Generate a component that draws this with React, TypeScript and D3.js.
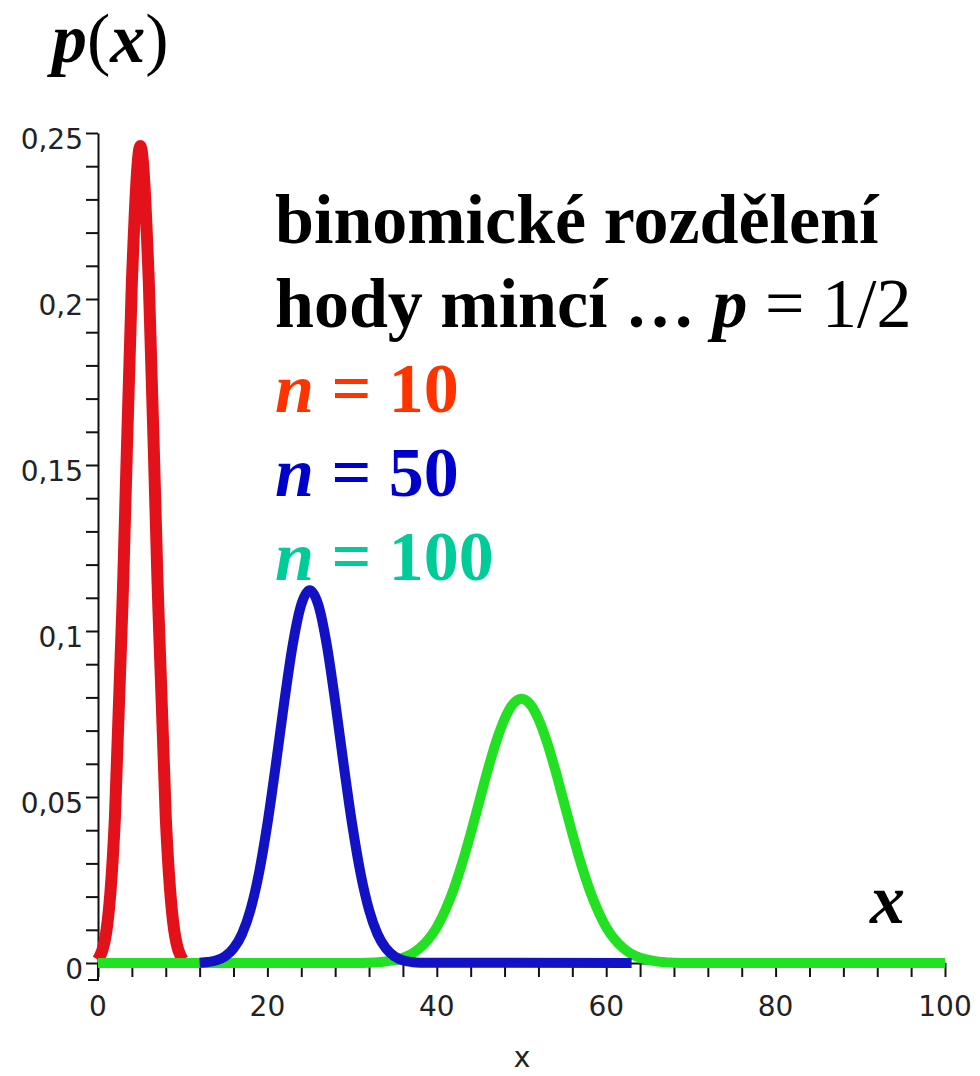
import React, { useEffect, useRef } from 'react'
import * as d3 from 'd3'

// axis ticks
const xTicks = [0, 20, 40, 60, 80, 100]
const yTicks = [0, 0.05, 0.1, 0.15, 0.2, 0.25]
const yTickLabels = ['0', '0,05', '0,1', '0,15', '0,2', '0,25']

// n = 10
const x10 = [0, 1, 2, 3, 4, 5, 6, 7, 8, 9, 10]
const p10 = [0.001, 0.0098, 0.0439, 0.1172, 0.2051, 0.2461, 0.2051, 0.1172, 0.0439, 0.0098, 0.001]

// n = 50
const x50 = [12, 13, 14, 15, 16, 17, 18, 19, 20, 21, 22, 23, 24, 25, 26, 27, 28, 29, 30, 31, 32, 33, 34, 35, 36, 37, 38, 63]
const p50 = [
  0.0001, 0.0003, 0.0008, 0.002, 0.0044, 0.0087, 0.016, 0.027, 0.0419, 0.0598, 0.0788, 0.096, 0.108, 0.1123,
  0.108, 0.096, 0.0788, 0.0598, 0.0419, 0.027, 0.016, 0.0087, 0.0044, 0.002, 0.0008, 0.0003, 0.0001, 0,
]

// n = 100
const x100 = [
  0, 31, 32, 33, 34, 35, 36, 37, 38, 39, 40, 41, 42, 43, 44, 45, 46, 47, 48, 49, 50, 51, 52, 53, 54, 55, 56, 57,
  58, 59, 60, 61, 62, 63, 64, 65, 66, 67, 68, 69, 100,
]
const p100 = [
  0, 0, 0.0001, 0.0002, 0.0005, 0.0009, 0.0016, 0.0027, 0.0045, 0.0071, 0.0108, 0.0159, 0.0223, 0.0301, 0.039,
  0.0485, 0.058, 0.0666, 0.0735, 0.078, 0.0796, 0.078, 0.0735, 0.0666, 0.058, 0.0485, 0.039, 0.0301, 0.0223,
  0.0159, 0.0108, 0.0071, 0.0045, 0.0027, 0.0016, 0.0009, 0.0005, 0.0002, 0.0001, 0, 0,
]

type TPoint = { x: number; p: number }

const zip = (xs: number[], ps: number[]): TPoint[] => xs.map((v, i) => ({ x: v, p: ps[i] }))

const App = (): JSX.Element => {
  const ref = useRef<SVGSVGElement>(null)

  useEffect(() => {
    const svg = d3.select(ref.current)
    svg.selectAll('*').remove()

    const x = d3.scaleLinear().domain([0, 100]).range([98, 945])
    const y = d3.scaleLinear().domain([0, 0.25]).range([963, 133])
    const tickFont = '"DejaVu Sans", sans-serif'

    // x axis
    svg
      .append('g')
      .attr('transform', 'translate(0,' + y(0) + ')')
      .call(
        d3
          .axisBottom(x)
          .tickValues(d3.range(0, 101, 4))
          .tickSize(14)
          .tickSizeOuter(0)
          .tickFormat(() => ''),
      )
      .call(g => {
        g.selectAll('.domain').attr('stroke', '#111').attr('stroke-width', 2)
        g.selectAll('.tick line').attr('stroke', '#111').attr('stroke-width', 2)
      })

    // y axis
    svg
      .append('g')
      .attr('transform', 'translate(' + x(0) + ',0)')
      .call(
        d3
          .axisLeft(y)
          .tickValues(d3.range(0, 0.2501, 0.01))
          .tickSize(12)
          .tickSizeOuter(0)
          .tickFormat(() => ''),
      )
      .call(g => {
        g.selectAll('.domain').attr('stroke', '#111').attr('stroke-width', 2)
        g.selectAll('.tick line').attr('stroke', '#111').attr('stroke-width', 2)
      })
    // bracket foot below the origin
    svg
      .append('path')
      .attr('d', 'M' + x(0) + ',' + y(0) + 'V' + (y(0) + 17) + 'h-10')
      .attr('fill', 'none')
      .attr('stroke', '#111')
      .attr('stroke-width', 2)

    svg
      .append('g')
      .selectAll('text')
      .data(xTicks)
      .join('text')
      .attr('x', d => x(d))
      .attr('y', 1016)
      .attr('text-anchor', 'middle')
      .attr('font-family', tickFont)
      .attr('font-size', 28)
      .attr('fill', '#222')
      .text(d => String(d))

    svg
      .append('g')
      .selectAll('text')
      .data(yTicks)
      .join('text')
      .attr('x', x(0) - 15)
      .attr('y', d => y(d) + 16)
      .attr('text-anchor', 'end')
      .attr('font-family', tickFont)
      .attr('font-size', 28)
      .attr('fill', '#222')
      .text((d, i) => yTickLabels[i])

    svg
      .append('text')
      .attr('x', 522)
      .attr('y', 1067)
      .attr('text-anchor', 'middle')
      .attr('font-family', tickFont)
      .attr('font-size', 28)
      .attr('fill', '#222')
      .text('x')

    const line = d3
      .line<TPoint>()
      .x(d => x(d.x))
      .y(d => y(d.p))
      .curve(d3.curveMonotoneX)

    const curves: [TPoint[], string, number][] = [
      [zip(x10, p10), '#e3121a', 12],
      [zip(x100, p100), '#22e022', 10],
      [zip(x50, p50), '#1212c4', 10],
    ]
    curves.forEach(([data, color, w]) => {
      svg
        .append('path')
        .datum(data)
        .attr('fill', 'none')
        .attr('stroke', color)
        .attr('stroke-width', w)
        .attr('stroke-linejoin', 'round')
        .attr('d', line)
    })

    const serif = '"Liberation Serif", "Times New Roman", serif'

    // p(x) label
    const px = svg
      .append('text')
      .attr('x', 52)
      .attr('y', 62)
      .attr('font-family', serif)
      .attr('font-size', 70)
      .attr('fill', '#000')
    px.append('tspan').attr('font-weight', 'bold').attr('font-style', 'italic').text('p')
    px.append('tspan').text('(')
    px.append('tspan').attr('font-weight', 'bold').attr('font-style', 'italic').text('x')
    px.append('tspan').text(')')

    // x label near axis end
    svg
      .append('text')
      .attr('x', 870)
      .attr('y', 923)
      .attr('font-family', serif)
      .attr('font-size', 70)
      .attr('font-weight', 'bold')
      .attr('font-style', 'italic')
      .text('x')

    const block = svg
      .append('g')
      .attr('font-family', serif)
      .attr('font-size', 70)
      .attr('font-weight', 'bold')
    block.append('text').attr('x', 275).attr('y', 243).text('binomické rozdělení')
    const l2 = block.append('text').attr('x', 275).attr('y', 327)
    l2.append('tspan').text('hody mincí … ')
    l2.append('tspan').attr('font-style', 'italic').text('p')
    l2.append('tspan').attr('font-weight', 'normal').text(' = 1/2')

    const legend: [string, string, number][] = [
      ['10', '#ff3300', 412],
      ['50', '#0000cc', 496],
      ['100', '#00cc99', 580],
    ]
    legend.forEach(([n, color, yy]) => {
      const t = block.append('text').attr('x', 275).attr('y', yy).attr('fill', color)
      t.append('tspan').attr('font-style', 'italic').text('n')
      t.append('tspan').text(' = ' + n)
    })
  }, [])

  return (
    <svg
      ref={ref}
      width={980}
      height={1076}
      style={{ position: 'absolute', left: 0, top: 0, background: '#fff' }}
    />
  )
}

export default App
